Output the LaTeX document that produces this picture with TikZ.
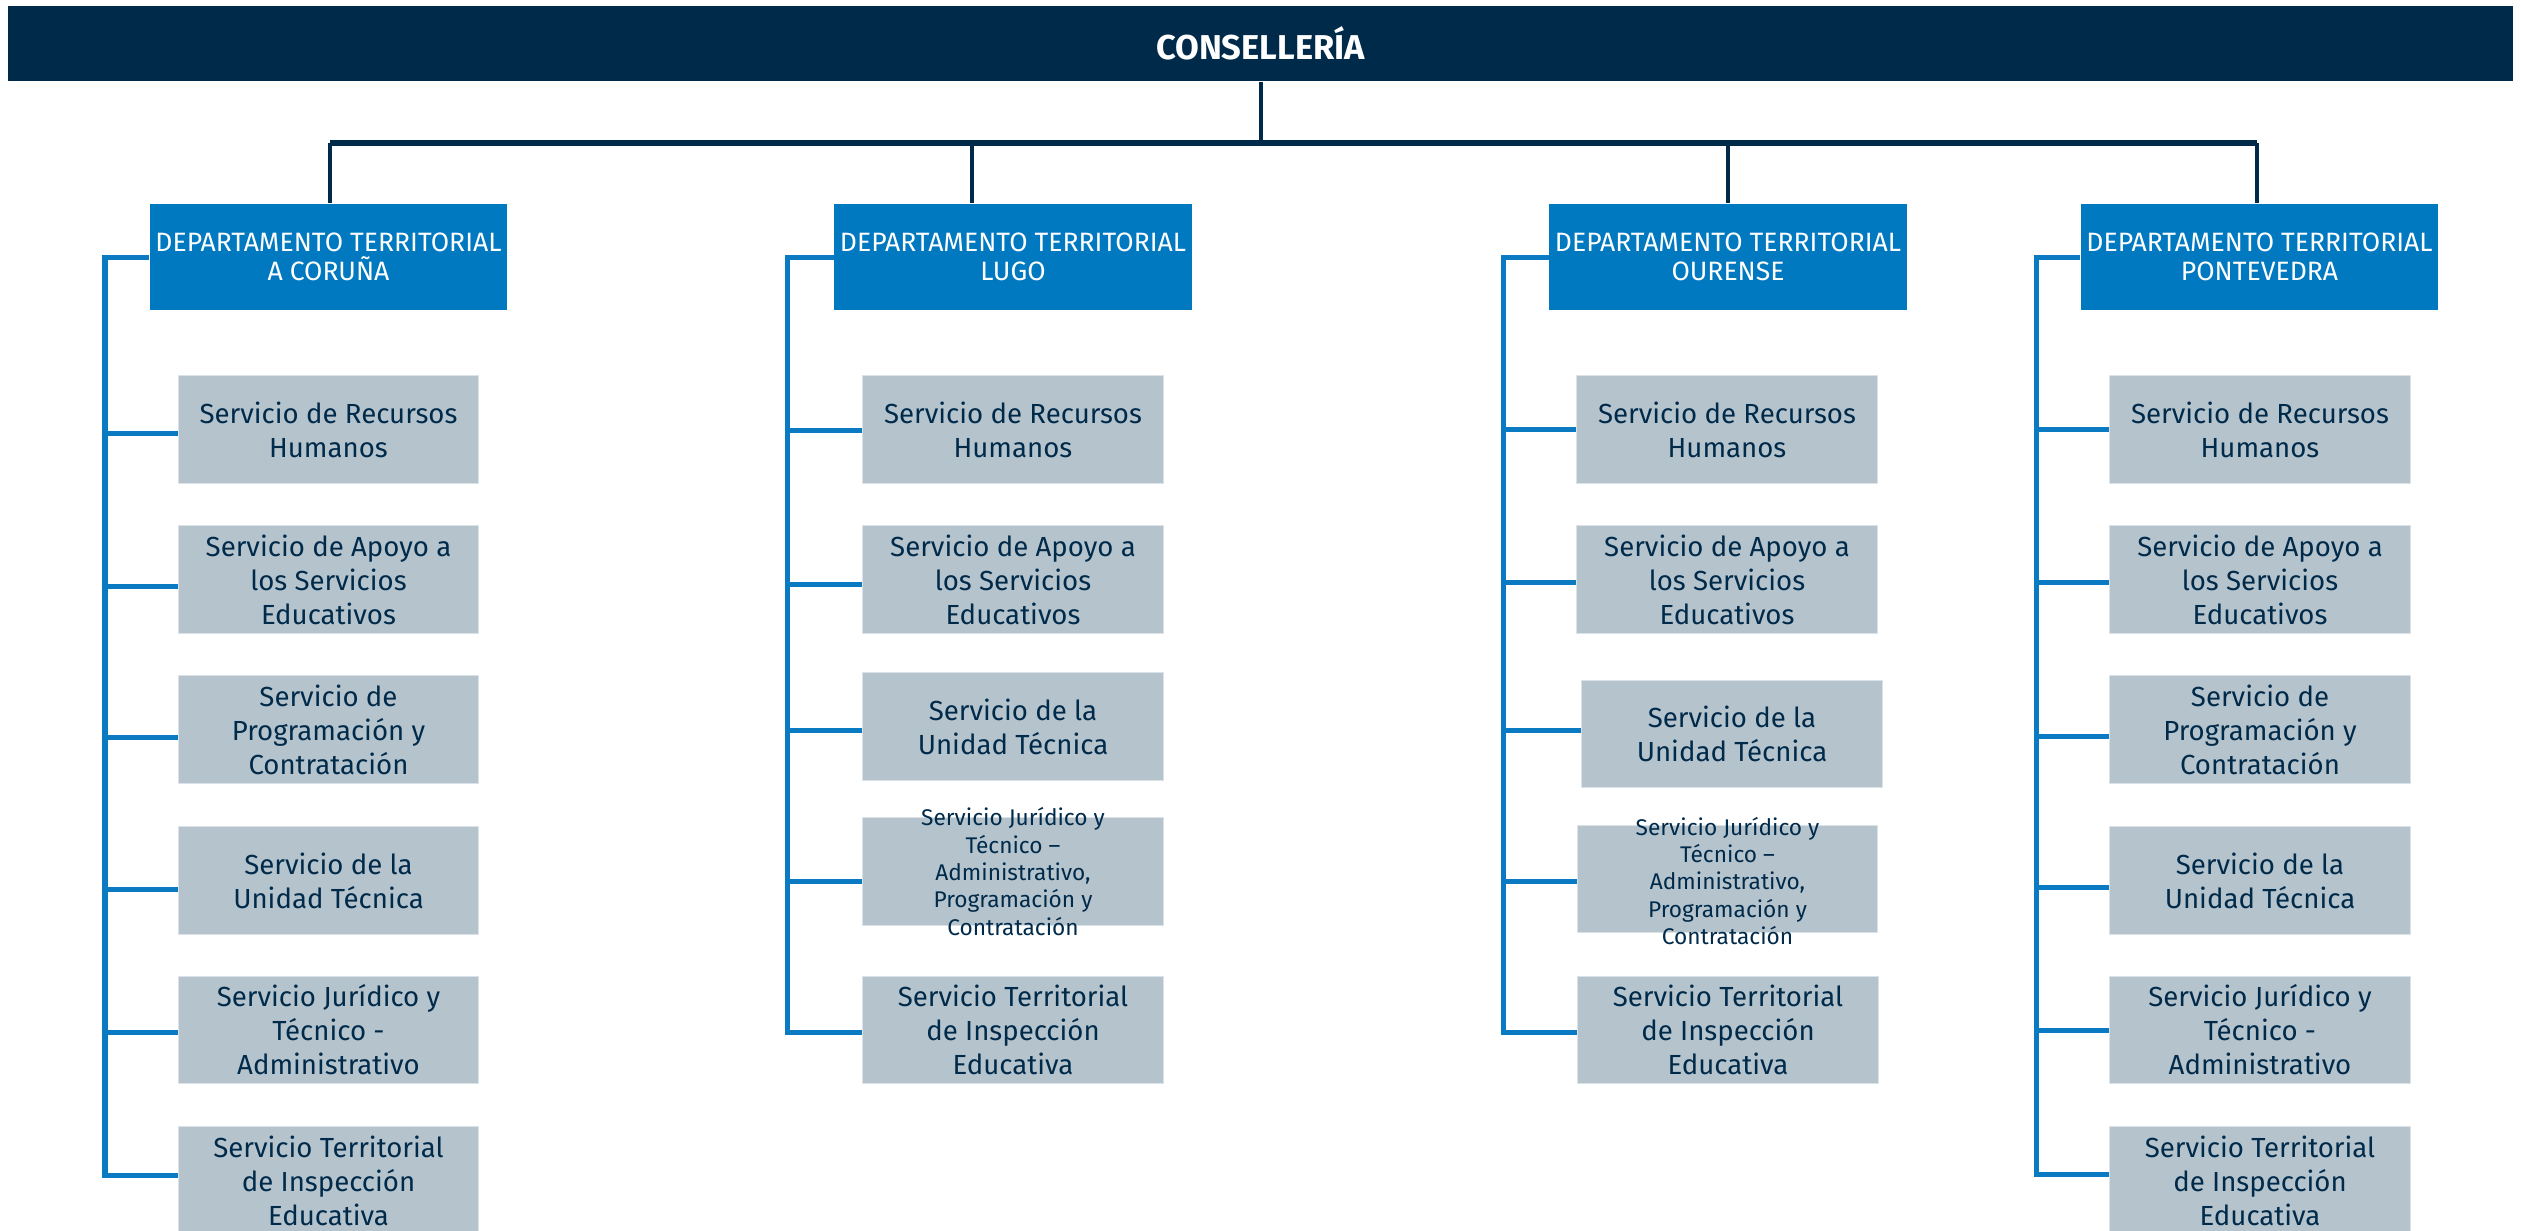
\documentclass[tikz,border=0pt]{standalone}
\usepackage{fontspec}
\setmainfont{Fira Sans}
\definecolor{navy}{HTML}{002A4A}
\definecolor{deptblue}{HTML}{0079C1}
\definecolor{linkblue}{HTML}{0A7AC2}
\definecolor{boxfill}{HTML}{B5C3CD}
\definecolor{boxedge}{HTML}{DCE3E8}
\begin{document}
\begin{tikzpicture}[x=0.01cm,y=-0.01cm,
  banner/.style={rectangle, fill=navy, minimum width=25.03cm, minimum height=0.75cm, inner sep=0pt,
    text=white, font=\fontsize{9.8}{10}\selectfont\bfseries},
  dept/.style={rectangle, fill=deptblue, minimum width=3.57cm, minimum height=1.06cm, inner sep=0pt,
    align=center, text=white, font=\fontsize{7.55}{8.3}\selectfont},
  svc/.style={rectangle, fill=boxfill, draw=boxedge, line width=0.1mm, minimum width=3cm,
    minimum height=1.07cm, inner sep=0pt, align=center, text=navy,
    font=\fontsize{7.85}{9.67}\selectfont},
  smalltxt/.style={inner sep=0pt, align=center, text=navy, font=\fontsize{6.45}{7.8}\selectfont},
  darkline/.style={draw=navy, line width=0.4mm},
  darkbus/.style={draw=navy, line width=0.55mm},
  blueline/.style={draw=linkblue, line width=0.5mm, line join=miter}]
\useasboundingbox (0,0) rectangle (2521,1230);

% top banner
\node[banner] (cons) at (1260.5,43.5) {CONSELLERÍA};

% departments
\node[dept] (coruna) at (328.5,257) {DEPARTAMENTO TERRITORIAL\\A CORUÑA};
\node[dept] (lugo) at (1013,257) {DEPARTAMENTO TERRITORIAL\\LUGO};
\node[dept] (ourense) at (1728,257) {DEPARTAMENTO TERRITORIAL\\OURENSE};
\node[dept] (ponte) at (2259.5,257) {DEPARTAMENTO TERRITORIAL\\PONTEVEDRA};

% A Coruna services
\node[svc] (a1) at (328.5,429.5) {Servicio de Recursos\\Humanos};
\node[svc] (a2) at (328.5,579.5) {Servicio de Apoyo a\\los Servicios\\Educativos};
\node[svc] (a3) at (328.5,729.5) {Servicio de\\Programación y\\Contratación};
\node[svc] (a4) at (328.5,880.5) {Servicio de la\\Unidad Técnica};
\node[svc] (a5) at (328.5,1030) {Servicio Jurídico y\\Técnico -\\Administrativo};
\node[svc] (a6) at (328.5,1180.5) {Servicio Territorial\\de Inspección\\Educativa};

% Lugo services
\node[svc] (l1) at (1013,429.5) {Servicio de Recursos\\Humanos};
\node[svc] (l2) at (1013,579.5) {Servicio de Apoyo a\\los Servicios\\Educativos};
\node[svc] (l3) at (1013,726.5) {Servicio de la\\Unidad Técnica};
\node[svc] (l4) at (1013,871.5) {};
\node[smalltxt] (l4t) at (l4.center) {Servicio Jurídico y\\Técnico –\\Administrativo,\\Programación y\\Contratación};
\node[svc] (l5) at (1013,1030) {Servicio Territorial\\de Inspección\\Educativa};

% Ourense services
\node[svc] (o1) at (1727,429.5) {Servicio de Recursos\\Humanos};
\node[svc] (o2) at (1727,579.5) {Servicio de Apoyo a\\los Servicios\\Educativos};
\node[svc] (o3) at (1732,734) {Servicio de la\\Unidad Técnica};
\node[svc] (o4) at (1727.5,879) {};
\node[smalltxt] (o4t) at (1727.5,881) {Servicio Jurídico y\\Técnico –\\Administrativo,\\Programación y\\Contratación};
\node[svc] (o5) at (1728,1030) {Servicio Territorial\\de Inspección\\Educativa};

% Pontevedra services
\node[svc] (p1) at (2260,429.5) {Servicio de Recursos\\Humanos};
\node[svc] (p2) at (2260,579.5) {Servicio de Apoyo a\\los Servicios\\Educativos};
\node[svc] (p3) at (2260,729.5) {Servicio de\\Programación y\\Contratación};
\node[svc] (p4) at (2260,880.5) {Servicio de la\\Unidad Técnica};
\node[svc] (p5) at (2260,1030) {Servicio Jurídico y\\Técnico -\\Administrativo};
\node[svc] (p6) at (2260,1180.5) {Servicio Territorial\\de Inspección\\Educativa};

% dark connectors
\coordinate (busL) at (330,143);
\coordinate (busLu) at (972,143);
\coordinate (busO) at (1728,143);
\coordinate (busR) at (2257,143);
\draw[darkline] (cons.south) -- (cons.south |- busL);
\draw[darkbus] (busL) -- (busR);
\draw[darkline] (busL) -- (coruna.north -| busL);
\draw[darkline] (busLu) -- (lugo.north -| busLu);
\draw[darkline] (busO) -- (ourense.north -| busO);
\draw[darkline] (busR) -- (ponte.north -| busR);

% A Coruna bracket
\coordinate (ca1) at (105,433);
\coordinate (ca2) at (105,586);
\coordinate (ca3) at (105,737);
\coordinate (ca4) at (105,889);
\coordinate (ca5) at (105,1032);
\coordinate (ca6) at (105,1175);
\draw[blueline] (coruna.west) -| (ca6) -- (a6.west |- ca6);
\foreach \n in {1,...,5} \draw[blueline] (ca\n) -- (a\n.west |- ca\n);

% Lugo bracket
\coordinate (cl1) at (787,430);
\coordinate (cl2) at (787,584);
\coordinate (cl3) at (787,730);
\coordinate (cl4) at (787,881);
\coordinate (cl5) at (787,1032);
\draw[blueline] (lugo.west) -| (cl5) -- (l5.west |- cl5);
\foreach \n in {1,...,4} \draw[blueline] (cl\n) -- (l\n.west |- cl\n);

% Ourense bracket
\coordinate (co1) at (1503,429);
\coordinate (co2) at (1503,582);
\coordinate (co3) at (1503,730);
\coordinate (co4) at (1503,881);
\coordinate (co5) at (1503,1032);
\draw[blueline] (ourense.west) -| (co5) -- (o5.west |- co5);
\foreach \n in {1,...,4} \draw[blueline] (co\n) -- (o\n.west |- co\n);

% Pontevedra bracket
\coordinate (cp1) at (2036.5,429);
\coordinate (cp2) at (2036.5,582);
\coordinate (cp3) at (2036.5,736);
\coordinate (cp4) at (2036.5,887);
\coordinate (cp5) at (2036.5,1030);
\coordinate (cp6) at (2036.5,1174);
\draw[blueline] (ponte.west) -| (cp6) -- (p6.west |- cp6);
\foreach \n in {1,...,5} \draw[blueline] (cp\n) -- (p\n.west |- cp\n);
\end{tikzpicture}
\end{document}
